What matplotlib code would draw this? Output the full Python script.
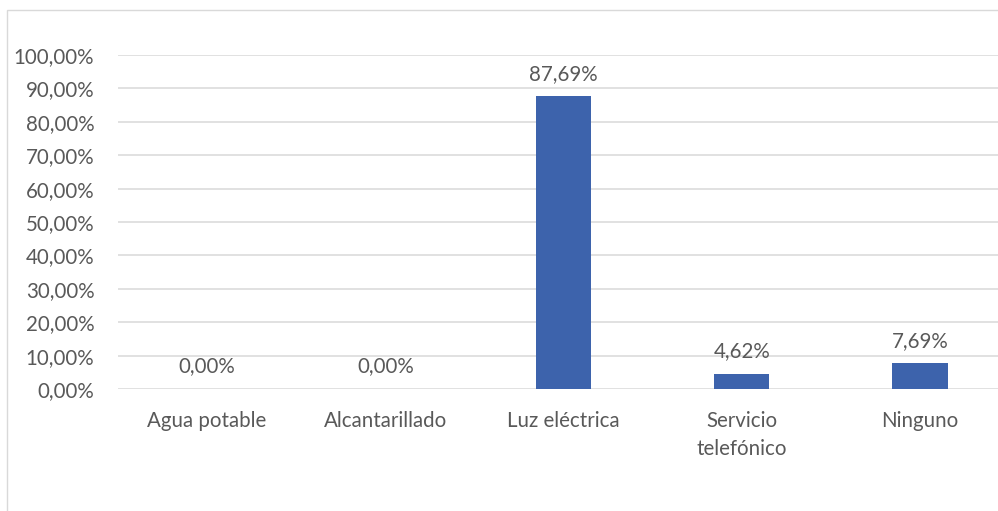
import numpy as np
import matplotlib
matplotlib.use("Agg")
import matplotlib.pyplot as plt
from matplotlib.patches import Rectangle

# servicios basicos de la vivienda (%)
categorias = ["Agua potable", "Alcantarillado", "Luz eléctrica", "Servicio\ntelefónico", "Ninguno"]
porcentajes = [0.00, 0.00, 87.69, 4.62, 7.69]
ticks_y = np.arange(0, 101, 10)

cor_barra = "#3D63AC"
cor_texto = "#595959"
cor_grade = "#D9D9D9"
tam = 14.8

plt.rcParams["font.family"] = ["Lato", "DejaVu Sans"]


def fmt_pct(v):
    return f"{v:.2f}".replace(".", ",") + "%"


fig = plt.figure(figsize=(9.98, 5.11), dpi=100)
ax = fig.add_axes([0.1182, 0.2387, 0.893, 0.6537])

x = np.arange(len(categorias))
barras = ax.bar(x, porcentajes, width=0.31, color=cor_barra, zorder=3)

for xi, v in zip(x, porcentajes):
    ax.annotate(fmt_pct(v), (xi, v), xytext=(0, 9), textcoords="offset points",
                ha="center", va="bottom", fontsize=tam, color=cor_texto)

ax.set_xlim(-0.5, len(categorias) - 0.5)
ax.set_ylim(0, 100)
ax.set_yticks(ticks_y)
ax.set_yticklabels([fmt_pct(t) for t in ticks_y])
ax.set_xticks(x)
ax.set_xticklabels(categorias, linespacing=1.5)
ax.tick_params(axis="y", length=0, pad=17, labelsize=tam, labelcolor=cor_texto)
ax.tick_params(axis="x", length=0, pad=16, labelsize=tam, labelcolor=cor_texto)
ax.grid(axis="y", color=cor_grade, linewidth=1.1, zorder=0)
for lado in ax.spines.values():
    lado.set_visible(False)

# borda do grafico
fig.patches.append(Rectangle((7 / 998, -0.1), 1.2, 1 - 10 / 511 + 0.1,
                             transform=fig.transFigure, fill=False,
                             edgecolor=cor_grade, linewidth=1.0))

fig.savefig("out.png", dpi=100)
